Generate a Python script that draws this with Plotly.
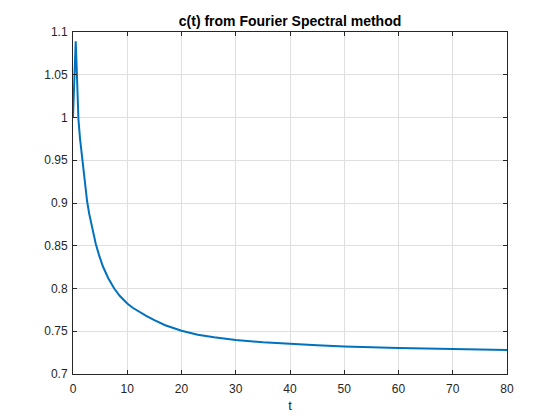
import plotly.graph_objects as go

t = [0, 0.5, 0.75, 1.0, 1.3, 1.7, 2.1, 2.6, 3.0, 3.5, 4.2, 4.8, 5.5, 6.5, 7.6, 8.6, 10,
     11, 12, 13.5, 15, 17, 20, 23, 26, 30, 35, 40, 45, 50, 55, 60, 70, 80]
c = [1.0, 1.089, 1.045, 0.998, 0.975, 0.950, 0.927, 0.902, 0.887, 0.871, 0.852, 0.839,
     0.826, 0.812, 0.800, 0.7915, 0.7825, 0.7775, 0.7735, 0.768, 0.763, 0.757, 0.7505,
     0.746, 0.743, 0.7398, 0.737, 0.735, 0.7335, 0.7323, 0.7313, 0.7305, 0.7293, 0.728]

x_ticks = [0, 10, 20, 30, 40, 50, 60, 70, 80]
y_ticks = [0.7, 0.75, 0.8, 0.85, 0.9, 0.95, 1.0, 1.05, 1.1]
y_labels = ["0.7", "0.75", "0.8", "0.85", "0.9", "0.95", "1", "1.05", "1.1"]

FONT = "Liberation Sans, Arial, sans-serif"

fig = go.Figure()
fig.add_trace(go.Scatter(x=t, y=c, mode="lines",
                         line=dict(color="#0072BD", width=2)))

axis_common = dict(
    showline=True, linecolor="#262626", linewidth=1, mirror="ticks",
    ticks="inside", ticklen=4, tickcolor="#262626", tickwidth=1,
    showgrid=True, gridcolor="#dfdfdf", gridwidth=1, zeroline=False,
    automargin=False,
    tickfont=dict(family=FONT, size=12, color="#262626"),
)

fig.update_layout(
    width=552, height=412,
    margin=dict(l=65, r=53, t=24, b=46),
    paper_bgcolor="white", plot_bgcolor="white",
    showlegend=False,
    title=dict(text="<b>c(t) from Fourier Spectral method</b>",
               x=0.5, xref="paper", y=1, yref="paper", yanchor="bottom",
               pad=dict(b=6),
               font=dict(family=FONT, size=14, color="#000000")),
    xaxis=dict(range=[0, 80], tickvals=x_ticks, ticklabelstandoff=4,
               title=dict(text="t", standoff=5,
                          font=dict(family=FONT, size=13, color="#262626")),
               **axis_common),
    yaxis=dict(range=[0.7, 1.1], tickvals=y_ticks, ticktext=y_labels,
               ticklabelstandoff=2, **axis_common),
)

fig.write_html("out.html")
